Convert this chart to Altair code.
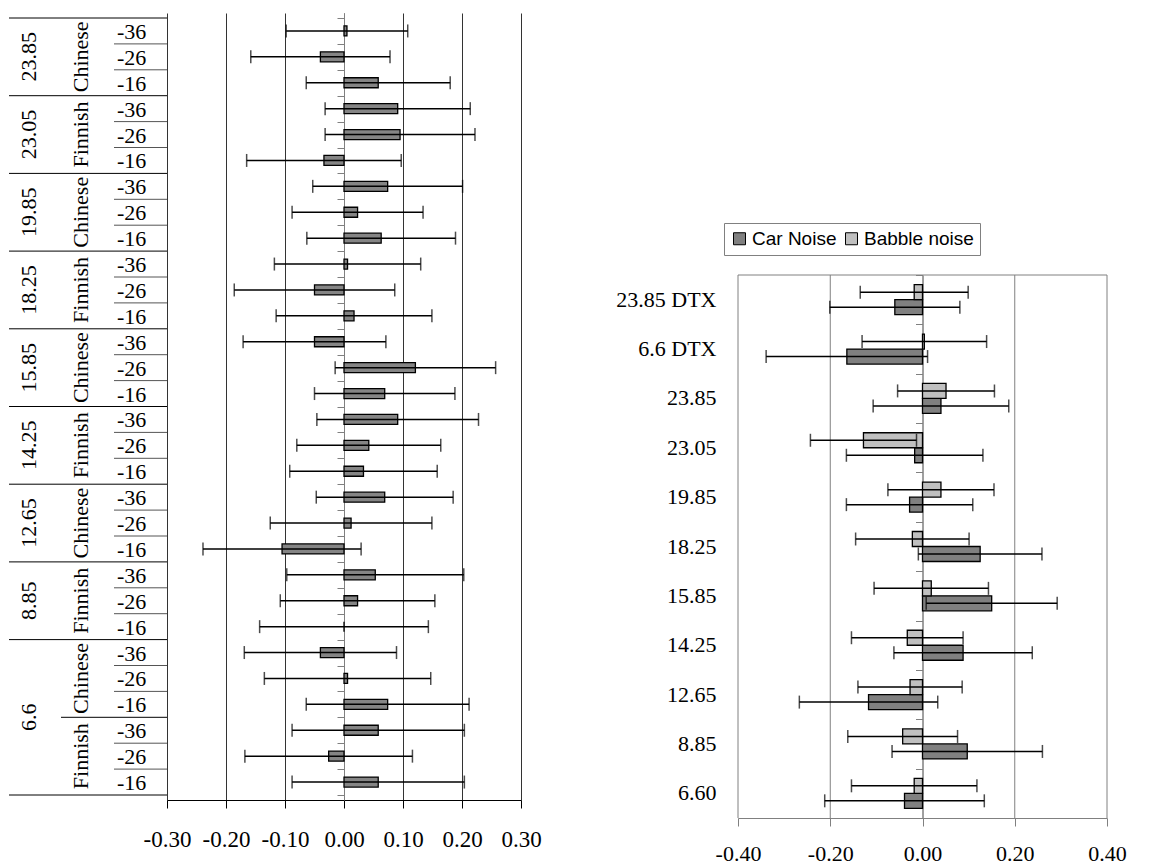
import altair as alt
import pandas as pd

SERIF = "Liberation Serif"
SANS = "Liberation Sans"
MINUS_FIX = "replace(format(datum.value, '.2f'), '\u2212', '-')"

# ---------------- Left panel data (top row first) ----------------
bitrates = ["23.85", "23.05", "19.85", "18.25", "15.85", "14.25", "12.65", "8.85", "6.6", "6.6"]
languages = ["Chinese", "Finnish", "Chinese", "Finnish", "Chinese", "Finnish", "Chinese", "Finnish", "Chinese", "Finnish"]
levels = ["-36", "-26", "-16"]
left_values = [0.005, -0.040, 0.058, 0.091, 0.095, -0.034, 0.074, 0.023, 0.063, 0.006,
               -0.050, 0.017, -0.050, 0.121, 0.069, 0.091, 0.042, 0.033, 0.069, 0.012,
               -0.105, 0.053, 0.023, 0.000, -0.040, 0.006, 0.074, 0.058, -0.026, 0.058]
left_ci = [0.103, 0.118, 0.122, 0.123, 0.127, 0.131, 0.127, 0.111, 0.126, 0.124,
           0.136, 0.132, 0.121, 0.136, 0.119, 0.137, 0.122, 0.125, 0.116, 0.137,
           0.134, 0.150, 0.131, 0.143, 0.129, 0.141, 0.138, 0.146, 0.142, 0.146]
left_ticks = [-0.3, -0.2, -0.1, 0.0, 0.1, 0.2, 0.3]

# ---------------- Right panel data (top category first) ----------------
categories = ["23.85 DTX", "6.6 DTX", "23.85", "23.05", "19.85", "18.25", "15.85", "14.25", "12.65", "8.85", "6.60"]
series_names = ["Car Noise", "Babble noise"]
car_values = [-0.060, -0.164, 0.040, -0.017, -0.028, 0.125, 0.150, 0.088, -0.117, 0.097, -0.039]
car_ci = [0.141, 0.175, 0.147, 0.148, 0.137, 0.134, 0.142, 0.150, 0.150, 0.163, 0.173]
babble_values = [-0.018, 0.004, 0.051, -0.128, 0.040, -0.022, 0.019, -0.033, -0.027, -0.043, -0.018]
babble_ci = [0.117, 0.135, 0.105, 0.115, 0.115, 0.123, 0.124, 0.121, 0.113, 0.119, 0.136]
right_ticks = [-0.4, -0.2, 0.0, 0.2, 0.4]
right_grid = [-0.4, -0.2, 0.2, 0.4]

# ---------------- Build left tables ----------------
rows = []
for g, (b, lang) in enumerate(zip(bitrates, languages)):
    for k, lev in enumerate(levels):
        i = g * len(levels) + k
        rows.append(dict(bitrate=b, language=lang, level=lev, y=i + 0.5,
                         value=left_values[i], lo=left_values[i] - left_ci[i],
                         hi=left_values[i] + left_ci[i]))
left_df = pd.DataFrame(rows)
n_rows = len(left_df)
caps_left = pd.concat([left_df[["y"]].assign(xv=left_df["lo"]),
                       left_df[["y"]].assign(xv=left_df["hi"])])

lang_rows, bit_rows = [], []
for g, (b, lang) in enumerate(zip(bitrates, languages)):
    s = g * len(levels)
    lang_rows.append(dict(language=lang, y=s + len(levels) / 2))
start = 0
for i in range(1, n_rows + 1):
    if i == n_rows or left_df.bitrate[i] != left_df.bitrate[start]:
        bit_rows.append(dict(bitrate=left_df.bitrate[start], y=(start + i) / 2))
        start = i
lang_df = pd.DataFrame(lang_rows)
bit_df = pd.DataFrame(bit_rows)

bound_rows = []
for b in range(n_rows + 1):
    if b == 0 or b == n_rows or left_df.bitrate[b] != left_df.bitrate[b - 1]:
        kind = "bitrate"
    elif left_df.language[b] != left_df.language[b - 1]:
        kind = "language"
    else:
        kind = "level"
    bound_rows.append(dict(y=b, kind=kind))
bound_df = pd.DataFrame(bound_rows)

x_scale_l = alt.Scale(domain=[-0.3, 0.3], nice=False, zero=False)
x_axis_l = alt.Axis(values=left_ticks, labelExpr=MINUS_FIX, grid=True, gridColor="#333333",
                    gridWidth=1, domainColor="black", tickColor="black", tickSize=8,
                    labelFont=SERIF, labelFontSize=23, labelColor="black", labelPadding=20,
                    labelOverlap=False, labelFlush=False, title=None)
y_scale_l = alt.Scale(domain=[0, n_rows], reverse=True, nice=False, zero=False)
y_axis_l = alt.Axis(orient="left", offset=-177, values=list(range(n_rows + 1)), labels=False,
                    tickSize=7, tickColor="#808080", domainColor="#808080", grid=False,
                    title=None)


def XL(f):
    return alt.X(f, scale=x_scale_l, axis=x_axis_l)


def YL(f="y:Q"):
    return alt.Y(f, scale=y_scale_l, axis=y_axis_l)


bars_l = alt.Chart(left_df).mark_bar(orient="horizontal", size=10, fill="#858585",
                                      stroke="black", strokeWidth=1.3).encode(
    x=XL("value:Q"), x2=alt.datum(0), y=YL())
err_l = alt.Chart(left_df).mark_rule(color="black", strokeWidth=1.5).encode(
    x=XL("lo:Q"), x2="hi:Q", y=YL())
caps_l = alt.Chart(caps_left).mark_tick(orient="vertical", size=13, thickness=1.5,
                                         color="black").encode(x=XL("xv:Q"), y=YL())

line_x = {"bitrate": -158, "language": -106, "level": -53}
line_color = {"bitrate": "black", "language": "black", "level": "#555555"}
table_lines = []
for kind in ["level", "language", "bitrate"]:
    table_lines.append(
        alt.Chart(bound_df[bound_df.kind == kind]).mark_rule(
            color=line_color[kind], strokeWidth=1).encode(
            x=alt.value(line_x[kind]), x2=alt.value(0), y=YL()))

level_txt = alt.Chart(left_df).mark_text(font=SERIF, fontSize=22, align="left",
                                          baseline="middle", dy=1, color="black").encode(
    x=alt.value(-50), y=YL(), text="level:N")
lang_txt = alt.Chart(lang_df).mark_text(font=SERIF, fontSize=22, align="center",
                                         baseline="middle", angle=270, color="black").encode(
    x=alt.value(-86), y=YL(), text="language:N")
bit_txt = alt.Chart(bit_df).mark_text(font=SERIF, fontSize=22, align="center",
                                       baseline="middle", angle=270, color="black").encode(
    x=alt.value(-138), y=YL(), text="bitrate:N")

left = alt.layer(*table_lines, level_txt, lang_txt, bit_txt, bars_l, err_l, caps_l).properties(
    width=354, height=787)

# ---------------- Right panel ----------------
rrows = []
for i, c in enumerate(categories):
    rrows.append(dict(cat=c, series="Car Noise", value=car_values[i],
                      lo=car_values[i] - car_ci[i], hi=car_values[i] + car_ci[i]))
    rrows.append(dict(cat=c, series="Babble noise", value=babble_values[i],
                      lo=babble_values[i] - babble_ci[i], hi=babble_values[i] + babble_ci[i]))
right_df = pd.DataFrame(rrows)
caps_right = pd.concat([right_df[["cat", "series"]].assign(xv=right_df["lo"]),
                        right_df[["cat", "series"]].assign(xv=right_df["hi"])])
grid_df = pd.DataFrame({"gx": right_grid})
top_df = pd.DataFrame({"x0": [right_ticks[0]], "x1": [right_ticks[-1]]})

x_scale_r = alt.Scale(domain=[-0.4, 0.4], nice=False, zero=False)
x_axis_r = alt.Axis(values=right_ticks, labelExpr=MINUS_FIX, grid=False, domainColor="#808080",
                    tickColor="#808080", tickSize=8, labelFont=SERIF, labelFontSize=22,
                    labelColor="black", labelPadding=17, labelOverlap=False, labelFlush=False,
                    title=None)


def XR(f):
    return alt.X(f, scale=x_scale_r, axis=x_axis_r)


y_scale_r = alt.Scale(domain=categories, range=[262, 805], paddingInner=0, paddingOuter=0)
y_lab = alt.Y("cat:N", scale=y_scale_r, sort=categories,
              axis=alt.Axis(orient="left", domain=False, ticks=False, labelPadding=22,
                            labelFont=SERIF, labelFontSize=22, labelColor="black",
                            grid=False, title=None))
y_zero = alt.Y("cat:N", scale=y_scale_r, sort=categories,
               axis=alt.Axis(orient="left", offset=-184.5, labels=False, tickBand="extent",
                             tickSize=7, tickColor="#808080", domainColor="#808080",
                             grid=False, title=None))
y_off = alt.YOffset("series:N", scale=alt.Scale(domain=["Babble noise", "Car Noise"],
                                                 paddingInner=0, paddingOuter=0.645))

grid_r = alt.Chart(grid_df).mark_rule(color="#808080", strokeWidth=1).encode(
    x=XR("gx:Q"), y=alt.value(262), y2=alt.value(805))
top_r = alt.Chart(top_df).mark_rule(color="#808080", strokeWidth=1).encode(
    x=XR("x0:Q"), x2="x1:Q", y=alt.value(262))
bars_r = alt.Chart(right_df).mark_bar(orient="horizontal", size=15, stroke="black",
                                       strokeWidth=1.3).encode(
    x=XR("value:Q"), x2=alt.datum(0), y=y_lab, yOffset=y_off,
    color=alt.Color("series:N",
                    scale=alt.Scale(domain=series_names, range=["#808080", "#C0C0C0"]),
                    legend=alt.Legend(orient="none", legendX=-14, legendY=210,
                                      direction="horizontal", title=None,
                                      symbolType="square", symbolSize=144,
                                      symbolStrokeColor="black", symbolStrokeWidth=1,
                                      labelFont=SANS, labelFontSize=19, labelColor="black",
                                      labelOffset=3, columnPadding=5, padding=6,
                                      strokeColor="#808080", fillColor="white")))
err_r = alt.Chart(right_df).mark_rule(color="black", strokeWidth=1.5).encode(
    x=XR("lo:Q"), x2="hi:Q", y=y_zero, yOffset=y_off)
caps_r = alt.Chart(caps_right).mark_tick(orient="vertical", size=13, thickness=1.5,
                                          color="black").encode(
    x=XR("xv:Q"), y=y_zero, yOffset=y_off)

right = alt.layer(grid_r, top_r, bars_r, err_r, caps_r).resolve_axis(y="independent").properties(
    width=369, height=805)

chart = alt.hconcat(left, right, spacing=217, bounds="flush").resolve_scale(
    x="independent", y="independent", color="independent").properties(
    padding={"left": 0, "top": 5, "right": 0, "bottom": 0}).configure_view(stroke=None)

chart.save("out.html", embed_options={"renderer": "svg", "actions": False})
